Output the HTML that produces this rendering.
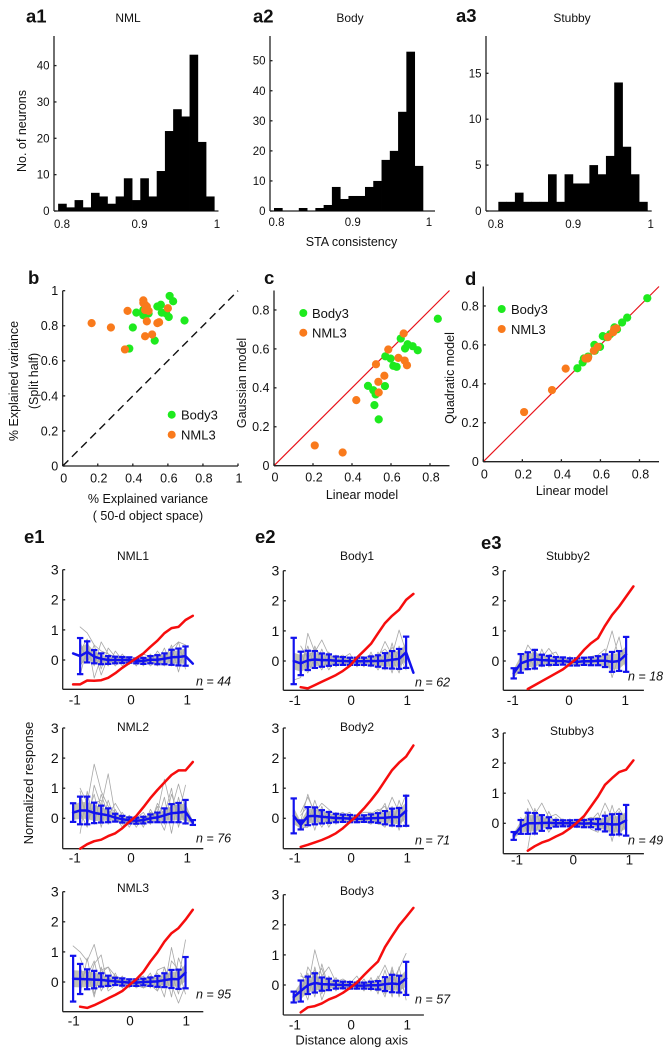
<!DOCTYPE html>
<html lang="en">
<head>
<meta charset="utf-8">
<title>STA consistency and model fit figure</title>
<style>
html,body{margin:0;padding:0;background:#fff;}
svg{display:block;font-family:"Liberation Sans",Arial,sans-serif;fill:#111;}
.letter{font-size:18.5px;font-weight:bold;}
.ttl{font-size:12px;text-anchor:middle;}
.axt{font-size:12.5px;text-anchor:middle;}
.nlab{font-size:12.5px;font-style:italic;}
.leg{font-size:13px;}
</style>
</head>
<body>
<svg id="fig" xmlns="http://www.w3.org/2000/svg" width="671" height="1050" viewBox="0 0 671 1050">
<rect width="671" height="1050" fill="#fff"/>
<text class="letter" x="26" y="22.5">a1</text>
<text class="letter" x="253" y="22.5">a2</text>
<text class="letter" x="456" y="22">a3</text>
<text class="letter" x="28" y="284">b</text>
<text class="letter" x="264" y="284">c</text>
<text class="letter" x="465" y="285">d</text>
<text class="letter" x="24" y="543">e1</text>
<text class="letter" x="255" y="543">e2</text>
<text class="letter" x="481" y="549">e3</text>

<text class="ttl" x="128" y="22">NML</text>
<text class="ttl" x="350" y="22">Body</text>
<text class="ttl" x="572" y="22">Stubby</text>
<text class="axt" transform="translate(26,131) rotate(-90)">No. of neurons</text>
<text class="axt" x="351.5" y="246">STA consistency</text>

<text class="axt" transform="translate(18,381) rotate(-90)">% Explained variance</text>
<text class="axt" transform="translate(38,381) rotate(-90)">(Split half)</text>
<text class="axt" x="148" y="503">% Explained variance</text>
<text class="axt" x="148" y="520">( 50-d object space)</text>
<text class="axt" transform="translate(246,383) rotate(-90)">Gaussian model</text>
<text class="axt" x="362" y="499">Linear model</text>
<text class="axt" transform="translate(454,378) rotate(-90)">Quadratic model</text>
<text class="axt" x="572" y="495">Linear model</text>

<circle cx="171.7" cy="414.7" r="4" fill="#1eea1e"/>
<text class="leg" x="181" y="419.5">Body3</text>
<circle cx="171.7" cy="434.7" r="4" fill="#f97a1c"/>
<text class="leg" x="181" y="439.5">NML3</text>
<circle cx="303.3" cy="313" r="4" fill="#1eea1e"/>
<text class="leg" x="312" y="318">Body3</text>
<circle cx="303.3" cy="332.7" r="4" fill="#f97a1c"/>
<text class="leg" x="312" y="337.5">NML3</text>
<circle cx="501.7" cy="309" r="4" fill="#1eea1e"/>
<text class="leg" x="511" y="314">Body3</text>
<circle cx="501.7" cy="329" r="4" fill="#f97a1c"/>
<text class="leg" x="511" y="334">NML3</text>

<text class="ttl" x="133" y="560">NML1</text>
<text class="ttl" x="133" y="731">NML2</text>
<text class="ttl" x="133" y="892">NML3</text>
<text class="ttl" x="357" y="560">Body1</text>
<text class="ttl" x="357" y="731">Body2</text>
<text class="ttl" x="357" y="895">Body3</text>
<text class="ttl" x="568" y="560">Stubby2</text>
<text class="ttl" x="572" y="735">Stubby3</text>
<text class="axt" style="font-size:13px" transform="translate(33,783) rotate(-90)">Normalized response</text>
<text class="axt" style="font-size:13px" x="351.7" y="1044.5">Distance along axis</text>

<text class="nlab" x="196" y="685.5">n = 44</text>
<text class="nlab" x="196" y="842.5">n = 76</text>
<text class="nlab" x="196" y="998.5">n = 95</text>
<text class="nlab" x="415" y="686.5">n = 62</text>
<text class="nlab" x="415" y="844.5">n = 71</text>
<text class="nlab" x="415" y="1003.5">n = 57</text>
<text class="nlab" x="628" y="680.5">n = 18</text>
<text class="nlab" x="628" y="844.5">n = 49</text>
</svg>
<script>
const _ = null;

// Panels a1-a3: histogram counts per bin
const a1Counts = [2,1,3,1,5,4,2,4,9,3,9,4,11,22,28,26,43,19,4];
const a2Counts = [1,0,0,1,0,1,2,8,4,5,5,8,10,17,20,33,53,15];
const a3Counts = [1,1,2,1,1,1,4,1,4,3,3,5,4,6,14,7,4,1];
const a1YTicks = [0,10,20,30,40];
const a2YTicks = [0,10,20,30,40,50];
const a3YTicks = [0,5,10,15];
const consistencyTicks = [0.8,0.9,1];
const consistencyTickLabels = ['0.8','0.9','1'];
const a1BinEdges = [0.795,0.0106];
const a2BinEdges = [0.7967,0.01085];
const a3BinEdges = [0.8034,0.01068];

// Panels b-d: scatter values
const bBodyX = [.61,.63,.56,.54,.42,.46,.49,.46,.565,.59,.605,.695,.40,.525,.38];
const bBodyY = [.97,.94,.92,.91,.875,.89,.87,.86,.875,.87,.85,.83,.79,.715,.67];
const bNmlX = [.46,.46,.47,.48,.47,.49,.37,.60,.48,.55,.54,.165,.275,.47,.51,.355];
const bNmlY = [.945,.93,.92,.91,.89,.885,.885,.90,.825,.82,.815,.815,.79,.74,.75,.665];
const cBodyX = [.84,.65,.685,.672,.711,.737,.571,.598,.612,.629,.482,.569,.509,.521,.515,.537];
const cBodyY = [.755,.653,.624,.602,.614,.593,.562,.55,.513,.508,.41,.409,.388,.366,.311,.238];
const cNmlX = [.665,.586,.638,.67,.682,.523,.566,.535,.537,.422,.209,.352];
const cNmlY = [.679,.597,.554,.54,.516,.521,.462,.431,.376,.337,.104,.068];
const dBodyX = [.482,.509,.515,.521,.537,.569,.571,.598,.612,.629,.65,.672,.685,.711,.737,.84];
const dBodyY = [.48,.51,.53,.53,.54,.6,.57,.59,.645,.64,.655,.69,.68,.715,.74,.84];
const dNmlX = [.209,.352,.422,.523,.537,.535,.566,.586,.638,.665,.67,.682];
const dNmlY = [.255,.368,.478,.53,.535,.53,.57,.59,.64,.665,.68,.685];
const bTicks = [0,.2,.4,.6,.8,1];
const bTickLabels = ['0','0.2','0.4','0.6','0.8','1'];
const cdTicks = [0,.2,.4,.6,.8];
const cdTickLabels = ['0','0.2','0.4','0.6','0.8'];

// Panels e: tuning curves
const gridX = [-1.03,-.905,-.78,-.655,-.53,-.405,-.28,-.155,-.03,.095,.22,.345,.47,.595,.72,.845,.97,1.1];
const responseTicks = [0,1,2,3];
const distanceTicks = [-1,0,1];
const distanceTickLabels = ['-1','0','1'];

const nml1Mean = [.22,.13,.27,.11,.04,0,0,0,0,-.03,-.03,.01,.01,.04,.09,.1,.13,-.12];
const nml1Err = [_,.6,.35,.22,.18,.13,.11,.1,.09,.08,.1,.12,.15,.18,.25,.28,.32,_];
const nml1Red = [-.81,-.81,-.68,-.69,-.67,-.59,-.44,-.26,-.1,.06,.22,.44,.64,.89,1.06,1.1,1.33,1.47];
const nml1Traces = [
[_,1.1,.9,.5,.3,.2,.1,.1,0,-.1,0,.1,.2,.1,.4,.6,.5,_],
[_,-.5,.4,-.2,.6,.2,-.1,.2,-.1,.1,-.2,.2,-.1,.4,-.2,.3,.1,_],
[_,.6,-.1,.5,-.3,.4,.1,-.2,.1,-.1,.1,-.1,.3,0,.5,-.4,.5,_],
[_,.3,.7,-.6,.1,-.2,.3,0,-.15,.1,.1,-.2,0,-.2,.1,.6,-.3,_],
[_,-.2,.2,.3,-.5,.1,-.2,.1,.1,-.2,.2,.1,-.2,.2,-.1,-.1,.2,_]];

const nml2Mean = [.19,.26,.26,.18,.14,.1,.02,-.03,-.07,-.08,-.06,0,.03,.1,.17,.19,.22,-.14];
const nml2Err = [.31,.46,.46,.34,.28,.23,.13,.11,.1,.1,.11,.13,.16,.23,.3,.32,.39,.08];
const nml2Red = [_,-1.01,-.86,-.76,-.71,-.59,-.5,-.33,-.12,.08,.37,.67,.94,1.19,1.44,1.59,1.59,1.87];
const nml2Traces = [
[_,1,.5,1.8,.9,.4,.2,0,-.1,-.2,0,.1,.2,1.3,.3,1.14,.3,_],
[_,.2,-.3,1.1,.4,1.48,.1,-.3,.1,-.3,.1,-.2,.4,-.2,.8,.1,1.1,_],
[_,-.5,.9,-.2,.8,.1,.5,.1,-.3,.1,-.3,.3,-.1,.7,-.5,.7,-.2,_],
[_,.7,.1,.8,-.3,.6,-.1,.2,-.2,0,.2,-.2,.5,.1,1,-.3,.6,_],
[_,.9,-.2,.5,.6,-.2,.3,-.2,.1,-.15,-.2,.2,.1,-.4,.5,.4,-.2,_]];

const nml3Mean = [.11,.1,.09,.08,.07,.04,.02,0,-.02,-.02,0,.01,.02,.06,.1,.09,.31,_];
const nml3Err = [.76,.5,.33,.29,.22,.17,.12,.12,.11,.11,.11,.14,.18,.23,.3,.32,.52,_];
const nml3Red = [_,-.82,-.86,-.77,-.66,-.54,-.43,-.3,-.1,.09,.34,.68,.98,1.34,1.62,1.79,2.07,2.4];
const nml3Traces = [
[1.2,1,.7,1.25,.3,.5,.2,.1,0,-.1,.1,0,.3,-.2,1.15,.1,1.4,_],
[_,.5,-.2,.6,.9,-.2,.3,-.2,.1,-.2,0,.3,-.3,.5,-.1,-.7,-.1,_],
[_,-.4,.8,-.4,.4,.5,-.1,.2,-.2,.1,-.2,.2,.1,-.5,.7,.4,-.4,_],
[_,.8,.2,.7,-.3,.1,.2,-.2,.1,.1,.2,-.2,.4,.5,-.5,.8,.2,_],
[_,.1,.4,-.5,.5,-.3,-.1,.1,-.1,-.1,-.2,-.1,-.3,.1,.3,-.4,.7,_]];

const body1Mean = [0,-.08,.02,.05,.03,.03,.01,0,-.01,-.01,-.01,0,0,.01,.04,.07,.29,-.39];
const body1Err = [.77,.39,.32,.28,.22,.19,.14,.13,.12,.12,.12,.15,.19,.25,.29,.33,.52,_];
const body1Red = [_,-.87,-.91,-.8,-.69,-.58,-.47,-.33,-.16,.11,.34,.57,.92,1.26,1.5,1.7,2.03,2.23];
const body1Traces = [
[-.63,-.55,.92,.3,.7,.2,.1,.2,0,-.1,.1,.2,.1,.65,.2,1.03,.3,_],
[_,.3,-.3,.5,-.1,.3,-.2,.1,.25,-.2,.1,-.2,.3,-.3,.6,-.3,.7,_],
[_,-.2,.5,-.2,.4,-.2,.2,-.15,.1,.1,-.2,.3,-.2,.3,-.4,.5,-.2,_],
[_,.5,.1,.4,.2,-.3,.1,.15,-.15,.15,.15,-.1,.2,.4,.1,-.4,.4,_],
[_,.1,-.4,.1,-.3,.15,-.1,-.1,-.1,-.05,0,.1,-.3,.1,.45,.2,-.3,_]];

const body2Mean = [.08,-.22,.07,.08,.05,.03,.01,0,-.01,-.02,-.01,0,.01,.02,.04,.04,.25,_];
const body2Err = [.58,.15,.3,.28,.22,.18,.14,.12,.12,.11,.11,.13,.16,.22,.28,.3,.5,_];
const body2Red = [_,-.95,-.88,-.8,-.72,-.62,-.5,-.33,-.12,.08,.33,.6,.9,1.25,1.6,1.85,2.05,2.42];
const body2Traces = [
[_,.2,.7,.2,.5,.3,.1,.2,0,-.1,.1,.15,.3,.1,.7,.2,.8,_],
[_,-.4,-.2,.6,-.1,.25,-.2,.1,.2,-.15,-.1,-.2,.1,.5,-.3,.6,-.1,_],
[_,.1,.4,-.4,.4,-.2,.2,-.15,.1,.1,.2,.2,-.2,-.2,.4,-.4,.4,_],
[_,-.1,.8,.1,-.3,.1,-.1,.1,-.1,.1,-.15,.05,.25,.4,-.2,.4,-.3,_],
[_,-.3,-.3,.4,.2,-.3,.15,-.1,-.15,-.05,.1,-.1,-.1,-.3,.2,-.2,.2,_]];

const body3Mean = [-.4,-.2,-.01,.07,.03,.02,.01,0,-.01,-.02,-.02,-.01,-.01,.03,.05,.03,.22,_];
const body3Err = [.18,.35,.29,.32,.22,.19,.13,.11,.11,.1,.1,.12,.14,.23,.29,.28,.55,_];
const body3Red = [_,-.91,-.74,-.7,-.61,-.48,-.39,-.26,-.1,.08,.33,.56,.78,1.26,1.63,1.98,2.26,2.56];
const body3Traces = [
[_,.4,-.1,1.17,.3,.6,.1,.2,.05,.3,-.1,.1,.2,.66,.1,.55,1.05,_],
[_,-.5,.6,.2,.55,-.2,.25,-.15,.15,-.1,.2,-.2,.3,-.3,.6,-.3,.3,_],
[_,.1,-.5,.6,-.3,.3,-.2,.15,-.15,.15,-.2,.25,-.3,.5,-.4,.6,-.5,_],
[_,-.2,.4,-.4,.7,-.1,.15,.05,-.1,-.15,.1,.05,.1,-.4,.5,-.4,.5,_],
[_,.3,.2,.5,-.5,.1,-.1,-.1,.1,.05,-.1,-.1,-.2,.2,.2,.1,-.3,_]];

const stubby2Mean = [-.41,-.08,.01,.06,.03,.02,0,0,-.03,-.03,-.01,-.01,.01,.01,-.03,0,.22,_];
const stubby2Err = [.17,.31,.28,.31,.18,.15,.13,.12,.12,.12,.12,.13,.15,.21,.33,.33,.58,_];
const stubby2Red = [_,_,-.93,-.8,-.67,-.54,-.41,-.28,-.1,.09,.37,.59,.76,1.17,1.53,1.81,2.14,2.48];
const stubby2Traces = [
[_,-.1,.53,.2,.1,.42,.1,.1,0,-.1,.05,-.1,.1,.2,1,.1,.1,_],
[_,-.3,-.3,.4,-.2,.2,.3,-.1,.15,-.15,-.1,.1,-.1,-.2,.1,.8,-.3,_],
[_,.1,.3,-.3,.4,-.2,-.1,.1,-.15,-.1,.1,.15,.2,.4,-.55,.2,.3,_]];

const stubby3Mean = [-.42,-.12,0,0,.01,.02,0,0,0,0,-.01,0,-.03,-.01,-.04,-.03,.1,_];
const stubby3Err = [.13,.23,.35,.34,.26,.18,.11,.1,.1,.11,.12,.13,.17,.26,.34,.34,.51,_];
const stubby3Red = [_,_,-.91,-.76,-.64,-.56,-.44,-.33,-.17,.02,.24,.56,.89,1.28,1.5,1.7,1.78,2.09];
const stubby3Traces = [
[_,_,.78,.3,.67,.2,.3,.1,.1,0,.1,.2,.1,.67,.2,.5,.1,_],
[_,_,-.83,.5,-.2,.4,-.1,.15,-.1,.1,-.15,.1,.35,-.3,.6,-.2,.4,_],
[_,-.3,.5,-.4,.3,-.2,.2,-.1,.15,-.15,.2,-.2,-.3,.4,-.6,.4,-.3,_],
[_,.2,-.3,.45,.2,-.3,.1,.05,-.1,.1,.05,.15,.2,-.25,.35,-.45,.1,_]];

const NS = 'http://www.w3.org/2000/svg';
const fig = document.getElementById('fig');
const AXIS = '#222';

function mk(tag, attrs) {
  const e = document.createElementNS(NS, tag);
  for (const k in attrs) e.setAttribute(k, attrs[k]);
  fig.appendChild(e);
  return e;
}
function linear(d0, p0, d1, p1) {
  return function (v) { return p0 + (v - d0) * (p1 - p0) / (d1 - d0); };
}
function axisLine(x1, y1, x2, y2, name) {
  const l = mk('line', {x1: x1, y1: y1, x2: x2, y2: y2, stroke: AXIS, 'stroke-width': 1.3});
  
  
}
function label(x, y, str, anchor, size, name) {
  const t = mk('text', {x: x, y: y, 'text-anchor': anchor, 'font-size': size, dy: '.35em'});
  t.textContent = str;
  
  
}

function drawHist(id, counts, edges, yTicks, xLoc, yLoc, axisX, axisRight, labY) {
  axisLine(axisX, 36, axisX, yLoc(0), id + '-y-axis');
  axisLine(axisX, yLoc(0), axisRight, yLoc(0), id + '-x-axis');
  counts.forEach(function (c, i) {
    const x0 = xLoc(edges[0] + i * edges[1]);
    const x1 = xLoc(edges[0] + (i + 1) * edges[1]);
    const b = mk('rect', {x: x0, y: yLoc(c), width: x1 - x0 + 0.4, height: yLoc(0) - yLoc(c), fill: '#000'});
    
    
  });
  yTicks.forEach(function (t) {
    axisLine(axisX, yLoc(t), axisX + 2.5, yLoc(t), id + '-y-tick');
    label(axisX - 4.5, yLoc(t), String(t), 'end', 11.5, id + '-y-tick-label');
  });
  consistencyTicks.forEach(function (t, i) {
    label(xLoc(t), labY, consistencyTickLabels[i], 'middle', 11.5, id + '-x-tick-label');
  });
}
drawHist('a1', a1Counts, a1BinEdges, a1YTicks, linear(.8, 62, 1, 217), linear(0, 211, 40, 65.6), 54, 218.5, 224);
drawHist('a2', a2Counts, a2BinEdges, a2YTicks, linear(.8, 276.5, 1, 429), linear(0, 211, 50, 60.7), 270, 435, 222);
drawHist('a3', a3Counts, a3BinEdges, a3YTicks, linear(.8, 495.7, 1, 650.7), linear(0, 211, 15, 73.3), 486, 651.7, 224);

function drawScatter(id, cfg) {
  const xs = linear(0, cfg.x0, cfg.dMax, cfg.x1);
  const ys = linear(0, cfg.y0, cfg.dMax, cfg.y1);
  const diag = mk('line', {x1: xs(0), y1: ys(0), x2: xs(cfg.dMax), y2: ys(cfg.dMax), stroke: cfg.diagColor, 'stroke-width': cfg.diagWidth});
  if (cfg.dash) diag.setAttribute('stroke-dasharray', cfg.dash);
  
  
  axisLine(cfg.x0, cfg.y1, cfg.x0, cfg.y0, id + '-y-axis');
  axisLine(cfg.x0, cfg.y0, cfg.x1, cfg.y0, id + '-x-axis');
  cfg.ticks.forEach(function (t, i) {
    axisLine(cfg.x0, ys(t), cfg.x0 + 2.5, ys(t), id + '-y-tick');
    axisLine(xs(t), cfg.y0, xs(t), cfg.y0 - 2.5, id + '-x-tick');
    label(cfg.x0 - 4.5, ys(t), cfg.labels[i], 'end', 12.5, id + '-y-tick-label');
    label(xs(t) + 1, cfg.labY, cfg.labels[i], 'middle', 12.5, id + '-x-tick-label');
  });
  cfg.bodyX.forEach(function (v, i) {
    const c = mk('circle', {cx: xs(v), cy: ys(cfg.bodyY[i]), r: 4.1, fill: '#1eea1e'});
    
    
  });
  cfg.nmlX.forEach(function (v, i) {
    const c = mk('circle', {cx: xs(v), cy: ys(cfg.nmlY[i]), r: 4.1, fill: '#f97a1c'});
    
    
  });
}
drawScatter('b', {x0: 62.7, x1: 238, y0: 466, y1: 290.7, dMax: 1, ticks: bTicks, labels: bTickLabels, labY: 478,
  bodyX: bBodyX, bodyY: bBodyY, nmlX: bNmlX, nmlY: bNmlY, diagColor: '#111', diagWidth: 1.4, dash: '8 5'});
drawScatter('c', {x0: 274, x1: 449.5, y0: 465.7, y1: 290.5, dMax: .9, ticks: cdTicks, labels: cdTickLabels, labY: 477,
  bodyX: cBodyX, bodyY: cBodyY, nmlX: cNmlX, nmlY: cNmlY, diagColor: '#e8131b', diagWidth: 1.2});
drawScatter('d', {x0: 483.3, x1: 659, y0: 461.7, y1: 286.5, dMax: .9, ticks: cdTicks, labels: cdTickLabels, labY: 474,
  bodyX: dBodyX, bodyY: dBodyY, nmlX: dNmlX, nmlY: dNmlY, diagColor: '#e8131b', diagWidth: 1.2});

function poly(points, attrs, name) {
  const pts = points.map(function (p) { return p[0].toFixed(1) + ',' + p[1].toFixed(1); }).join(' ');
  const e = mk('polyline', Object.assign({points: pts, fill: 'none', 'stroke-linejoin': 'round', 'stroke-linecap': 'round'}, attrs));
  
  
  return e;
}
function seriesPoints(vals, xs, ys) {
  const out = [];
  vals.forEach(function (v, i) { if (v !== null) out.push([xs(gridX[i]), ys(v)]); });
  return out;
}
function drawTuning(id, p) {
  const xs = linear(0, p.axisX + 68.3, 1, p.axisX + 68.3 + 56.2);
  const ys = linear(0, p.y0, 1, p.y0 - 30.1);
  const upper = [], lower = [];
  p.mean.forEach(function (m, i) {
    if (m !== null && p.err[i] !== null) {
      const h = Math.min(p.err[i] * 0.8, 0.28);
      upper.push([xs(gridX[i]), ys(m + h)]);
      lower.unshift([xs(gridX[i]), ys(m - h)]);
    }
  });
  const band = mk('polygon', {points: upper.concat(lower).map(function (q) { return q[0].toFixed(1) + ',' + q[1].toFixed(1); }).join(' '), fill: '#c2c2b4'});
  
  
  p.traces.forEach(function (tr) {
    poly(seriesPoints(tr, xs, ys), {stroke: '#a8a8a8', 'stroke-width': .8}, id + '-neuron-trace');
  });
  axisLine(p.axisX, ys(3), p.axisX, p.bottom, id + '-y-axis');
  axisLine(p.axisX, p.bottom, p.axisX + 140.6, p.bottom, id + '-x-axis');
  responseTicks.forEach(function (t) {
    axisLine(p.axisX, ys(t), p.axisX + 2.5, ys(t), id + '-y-tick');
    label(p.axisX - 4, ys(t), String(t), 'end', 14, id + '-y-tick-label');
  });
  distanceTicks.forEach(function (t, i) {
    label(xs(t) + p.labelShift, p.labY, distanceTickLabels[i], 'middle', 13.5, id + '-x-tick-label');
  });
  poly(seriesPoints(p.mean, xs, ys), {stroke: '#1212ee', 'stroke-width': 2.5}, id + '-mean-line');
  p.mean.forEach(function (m, i) {
    const h = p.err[i];
    if (m === null || h === null) return;
    const x = xs(gridX[i]);
    const segs = [[x, ys(m - h), x, ys(m + h)], [x - 3.2, ys(m + h), x + 3.2, ys(m + h)], [x - 3.2, ys(m - h), x + 3.2, ys(m - h)]];
    segs.forEach(function (s) {
      const l = mk('line', {x1: s[0], y1: s[1], x2: s[2], y2: s[3], stroke: '#1212ee', 'stroke-width': 2.2});
      
      
    });
  });
  poly(seriesPoints(p.red, xs, ys), {stroke: '#f60d0d', 'stroke-width': 2.5}, id + '-model-curve');
}
drawTuning('nml1', {axisX: 62.7, y0: 660, bottom: 689.3, labY: 700, labelShift: 0, mean: nml1Mean, err: nml1Err, red: nml1Red, traces: nml1Traces});
drawTuning('nml2', {axisX: 62.7, y0: 818.3, bottom: 848.7, labY: 858, labelShift: 0, mean: nml2Mean, err: nml2Err, red: nml2Red, traces: nml2Traces});
drawTuning('nml3', {axisX: 62.7, y0: 982, bottom: 1011.7, labY: 1021, labelShift: -1, mean: nml3Mean, err: nml3Err, red: nml3Red, traces: nml3Traces});
drawTuning('body1', {axisX: 283.3, y0: 661, bottom: 690.3, labY: 700.5, labelShift: -.5, mean: body1Mean, err: body1Err, red: body1Red, traces: body1Traces});
drawTuning('body2', {axisX: 283.3, y0: 818.3, bottom: 848.7, labY: 858, labelShift: -.5, mean: body2Mean, err: body2Err, red: body2Red, traces: body2Traces});
drawTuning('body3', {axisX: 283.3, y0: 985, bottom: 1015, labY: 1025, labelShift: -.5, mean: body3Mean, err: body3Err, red: body3Red, traces: body3Traces});
drawTuning('stubby2', {axisX: 503.3, y0: 661, bottom: 690.3, labY: 700.5, labelShift: -2.6, mean: stubby2Mean, err: stubby2Err, red: stubby2Red, traces: stubby2Traces});
drawTuning('stubby3', {axisX: 503.3, y0: 823.3, bottom: 853.7, labY: 860, labelShift: 1.6, mean: stubby3Mean, err: stubby3Err, red: stubby3Red, traces: stubby3Traces});
</script>
</body>
</html>
